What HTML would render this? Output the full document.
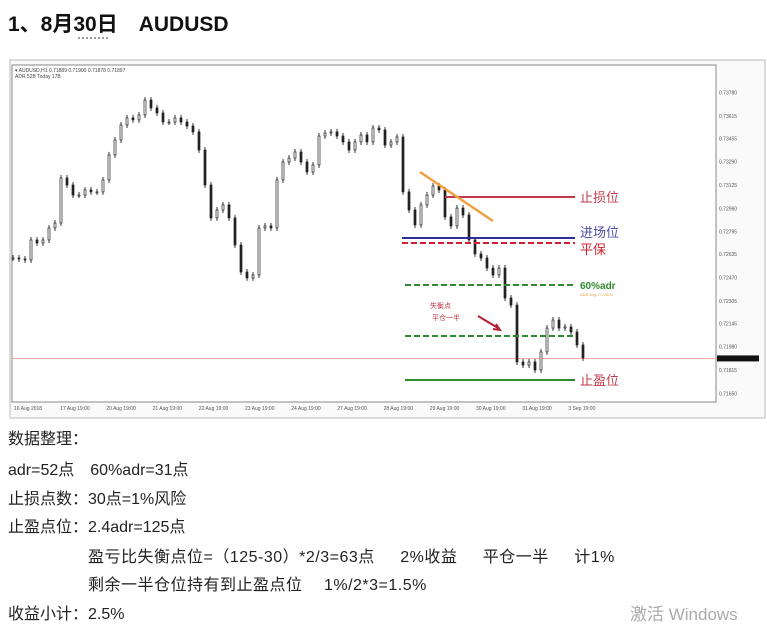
<!DOCTYPE html>
<html><head><meta charset="utf-8">
<style>
body{margin:0;width:767px;height:626px;background:#fff;overflow:hidden;font-family:"Liberation Sans","Noto Sans CJK SC",sans-serif;position:relative}
.t{position:absolute;left:8px;font-size:16px;color:#222;white-space:pre}
</style></head><body>
<div style="position:absolute;left:8px;top:8px;font-size:21px;font-weight:bold;color:#111">1、8月30日　AUDUSD</div>
<div style="position:absolute;left:78px;top:37px;width:30px;border-top:2px dotted #99a"></div>
<svg id="chart" width="767" height="626" style="position:absolute;left:0;top:0">
<rect x="10" y="60" width="755" height="358" fill="#fafafa" stroke="#bbb"/>
<rect x="12" y="65" width="704" height="337" fill="#fff" stroke="#888"/>
<text x="15" y="72" font-size="5" fill="#444">▾ AUDUSD,H1  0.71889 0.71900 0.71878 0.71897</text>
<text x="15" y="78" font-size="5" fill="#444">ADR 52B  Today 17B</text>
<g id="g"></g>
</svg>
<div class="t" style="top:425px">数据整理：</div>
<div class="t" style="top:456px">adr=52点　60%adr=31点</div>
<div class="t" style="top:485px">止损点数：30点=1%风险</div>
<div class="t" style="top:513px">止盈点位：2.4adr=125点</div>
<div class="t" style="top:543px;left:88px;word-spacing:4px;letter-spacing:0.5px">盈亏比失衡点位=（125-30）*2/3=63点　 2%收益　 平仓一半　 计1%</div>
<div class="t" style="top:571px;left:88px;letter-spacing:0.5px">剩余一半仓位持有到止盈点位　 1%/2*3=1.5%</div>
<div class="t" style="top:600px">收益小计：2.5%</div>
<div style="position:absolute;left:630px;top:600px;font-size:17px;color:#aaa">激活 Windows</div>
<script>
const closes=[0.72608,0.72601,0.72594,0.72736,0.72714,0.72736,0.72821,0.72856,0.73175,0.73125,0.73054,0.73054,0.73090,0.73076,0.73076,0.73161,0.73338,0.73444,0.73550,0.73600,0.73586,0.73621,0.73727,0.73671,0.73635,0.73571,0.73571,0.73600,0.73571,0.73543,0.73501,0.73373,0.73125,0.72892,0.72948,0.72984,0.72892,0.72700,0.72509,0.72467,0.72488,0.72821,0.72835,0.72821,0.73161,0.73288,0.73316,0.73359,0.73288,0.73217,0.73267,0.73472,0.73493,0.73501,0.73472,0.73430,0.73373,0.73430,0.73479,0.73430,0.73529,0.73515,0.73408,0.73430,0.73465,0.73076,0.72948,0.72842,0.72984,0.73054,0.73118,0.73090,0.72899,0.72835,0.72962,0.72913,0.72736,0.72637,0.72608,0.72537,0.72488,0.72537,0.72325,0.72275,0.71872,0.71850,0.71872,0.71815,0.71943,0.72112,0.72169,0.72112,0.72120,0.72084,0.71992,0.71900];
const yTicks=[0.73780,0.73615,0.73455,0.73290,0.73125,0.72960,0.72795,0.72635,0.72470,0.72305,0.72145,0.71980,0.71815,0.71650];
const timeLabels=["16 Aug 2018","17 Aug 19:00","20 Aug 19:00","21 Aug 19:00","22 Aug 19:00","23 Aug 19:00","24 Aug 19:00","27 Aug 19:00","28 Aug 19:00","29 Aug 19:00","30 Aug 19:00","31 Aug 19:00","3 Sep 19:00"];
const levelNames=["止损位","进场位","平保","60%adr","balance","止盈位"];
const levelPrices=[0.73040,0.72750,0.72714,0.72417,0.72056,0.71744];
const currentPrice=0.71897;
const g=document.getElementById('g');
const NS='http://www.w3.org/2000/svg';
const y=p=>346.7-(p-0.71980)/0.00165*23.3;
const x=i=>12+i*6;
function mk(t,a){const e=document.createElementNS(NS,t);for(const k in a)e.setAttribute(k,a[k]);g.appendChild(e);return e;}
yTicks.forEach((v,i)=>{const e=mk('text',{x:719,y:y(v)+2,'font-size':5,fill:'#555'});e.textContent=v.toFixed(5);
});
timeLabels.forEach((s,i)=>{const e=mk('text',{x:14+i*46.2,y:410,'font-size':5,fill:'#555'});e.textContent=s;
});
const cp=mk('line',{x1:12,x2:716,y1:y(currentPrice),y2:y(currentPrice),stroke:'#f0a090','stroke-width':0.8});

const cpl=mk('rect',{x:717,y:y(currentPrice)-3,width:42,height:6,fill:'#111'});

closes.forEach((c,i)=>{const o=i?closes[i-1]:c;const t=Math.min(y(o),y(c)),b=Math.max(y(o),y(c));
const w=mk('line',{x1:x(i)+1,x2:x(i)+1,y1:t-3,y2:b+3,stroke:'#222','stroke-width':0.9});

const r=mk('rect',{x:x(i),y:t,width:2,height:Math.max(1,b-t),fill:c>=o?'#fff':'#222',stroke:'#222','stroke-width':0.7});
});
const styles=[{c:'#c0394a',d:'',x1:445,lc:'#c0394a',dy:5},{c:'#2b2f9a',d:'',x1:402,lc:'#4a4aa0',dy:-1},{c:'#d02030',d:'6 3',x1:402,lc:'#d02030',dy:11},{c:'#2e8b2e',d:'6 3',x1:405,lc:'#2e8b2e',dy:4},{c:'#2e8b2e',d:'6 3',x1:405,lc:'',dy:0},{c:'#2e8b2e',d:'',x1:405,lc:'#c0394a',dy:5}];
levelPrices.forEach((p,i)=>{const s=styles[i];
const l=mk('line',{x1:s.x1,x2:575,y1:y(p),y2:y(p),stroke:s.c,'stroke-width':2,'stroke-dasharray':s.d});

if(s.lc){const t=mk('text',{x:580,y:y(p)+s.dy,'font-size':i==3?10:13,fill:i==3?'#2e8b2e':s.lc,'font-weight':i==3?'bold':'normal'});t.textContent=levelNames[i];
}});
const tl=mk('line',{x1:420,y1:172,x2:493,y2:221,stroke:'#f0a040','stroke-width':2.5});

const a1=mk('text',{x:430,y:308,'font-size':7,fill:'#c03040'});a1.textContent='失衡点';

const a2=mk('text',{x:432,y:320,'font-size':7,fill:'#c03040'});a2.textContent='平仓一半';

const ar=mk('path',{d:'M478 316 L498 328 M493 329 L500 330 L496 324',stroke:'#b02030','stroke-width':2,fill:'none'});

const ad=mk('text',{x:580,y:296,'font-size':4,fill:'#e0a040'});ad.textContent='ADR Avg: 0.72504';

</script>
</body></html>
